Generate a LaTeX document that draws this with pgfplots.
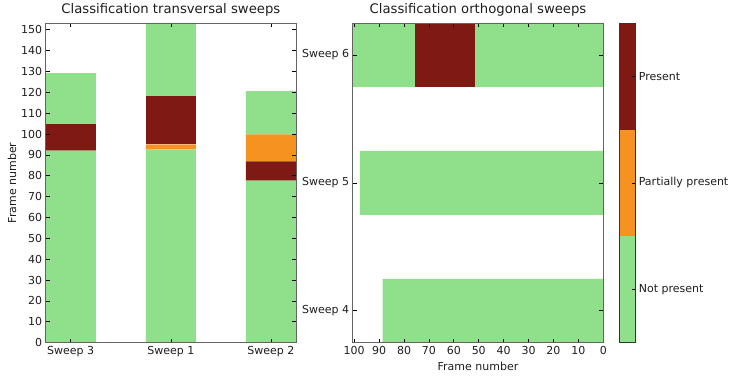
\documentclass[border=0pt]{standalone}
\usepackage{pgfplots}
\pgfplotsset{compat=1.18}
\usepackage{fontspec}
\setmainfont{DejaVu Sans}
\definecolor{cgreen}{RGB}{144,224,139}
\definecolor{corange}{RGB}{245,146,32}
\definecolor{cred}{RGB}{127,25,20}
\definecolor{spine}{RGB}{100,100,100}
\definecolor{txt}{RGB}{30,30,30}
\begin{document}
\begin{tikzpicture}
\useasboundingbox (0pt,0pt) rectangle (733pt,375pt);
\pgfplotsset{
  mystyle/.style={
    scale only axis,
    anchor=south west,
    axis on top,
    font=\fontsize{11}{13}\selectfont,
    every tick label/.append style={text=txt},
    label style={text=txt},
    axis line style={spine, line width=0.9pt},
    tick style={black, line width=0.7pt},
    major tick length=4pt,
    tick align=inside,
    /pgf/number format/assume math mode=true,
    title style={font=\fontsize{13.2}{15}\selectfont, text=txt, at={(0.5,1)}, anchor=base, yshift=3.7pt},
  }
}
% Left: transversal sweeps
\begin{axis}[mystyle,
  at={(45.7pt,32.3pt)}, width=250.3pt, height=319.7pt,
  xmin=-0.25, xmax=2.25, ymin=0, ymax=153.2,
  ybar stacked, bar width=0.5,
  xtick={0,1,2}, xticklabels={Sweep 3,Sweep 1,Sweep 2},
  ytick={0,10,...,150},
  ylabel={Frame number},
  ylabel style={at={(axis description cs:-0.1346,0.5)}, anchor=center},
  title={Classification transversal sweeps},
]
\addplot[fill=cgreen, draw=none] coordinates {(0,92) (1,92.6) (2,77.7)};
\addplot[fill=cred, draw=none] coordinates {(0,12.7) (1,0) (2,9.2)};
\addplot[fill=corange, draw=none] coordinates {(0,0) (1,2.4) (2,12.9)};
\addplot[fill=cred, draw=none] coordinates {(0,0) (1,23.1) (2,0)};
\addplot[fill=cgreen, draw=none] coordinates {(0,24.5) (1,35.1) (2,20.7)};
\end{axis}
% Right: orthogonal sweeps
\begin{axis}[mystyle,
  at={(352.7pt,32.3pt)}, width=250.6pt, height=319.7pt,
  x dir=reverse,
  xmin=0, xmax=100.6, ymin=-0.25, ymax=2.25,
  xbar stacked, bar width=0.5,
  ytick={0,1,2}, yticklabels={Sweep 4,Sweep 5,Sweep 6},
  xtick={0,10,...,100},
  xlabel={Frame number},
  xlabel style={at={(axis description cs:0.5,-0.075)}, anchor=center},
  title={Classification orthogonal sweeps},
]
\addplot[fill=cgreen, draw=none] coordinates {(88.6,0) (97.7,1) (51.5,2)};
\addplot[fill=cred, draw=none] coordinates {(0,0) (0,1) (24.1,2)};
\addplot[fill=cgreen, draw=none] coordinates {(0,0) (0,1) (25.0,2)};
\end{axis}
% Colorbar
\begin{axis}[mystyle,
  at={(619.3pt,32.3pt)}, width=16pt, height=319.7pt,
  xmin=0, xmax=1, ymin=0, ymax=3,
  ybar stacked, bar width=1,
  axis line style={black!80, line width=0.9pt},
  xtick=\empty,
  ytick={0.5,1.5,2.5}, yticklabels={Not present,Partially present,Present},
  ytick pos=right, yticklabel pos=right,
  major tick length=3pt,
]
\addplot[fill=cgreen, draw=none] coordinates {(0.5,1)};
\addplot[fill=corange, draw=none] coordinates {(0.5,1)};
\addplot[fill=cred, draw=none] coordinates {(0.5,1)};
\end{axis}
\end{tikzpicture}
\end{document}
